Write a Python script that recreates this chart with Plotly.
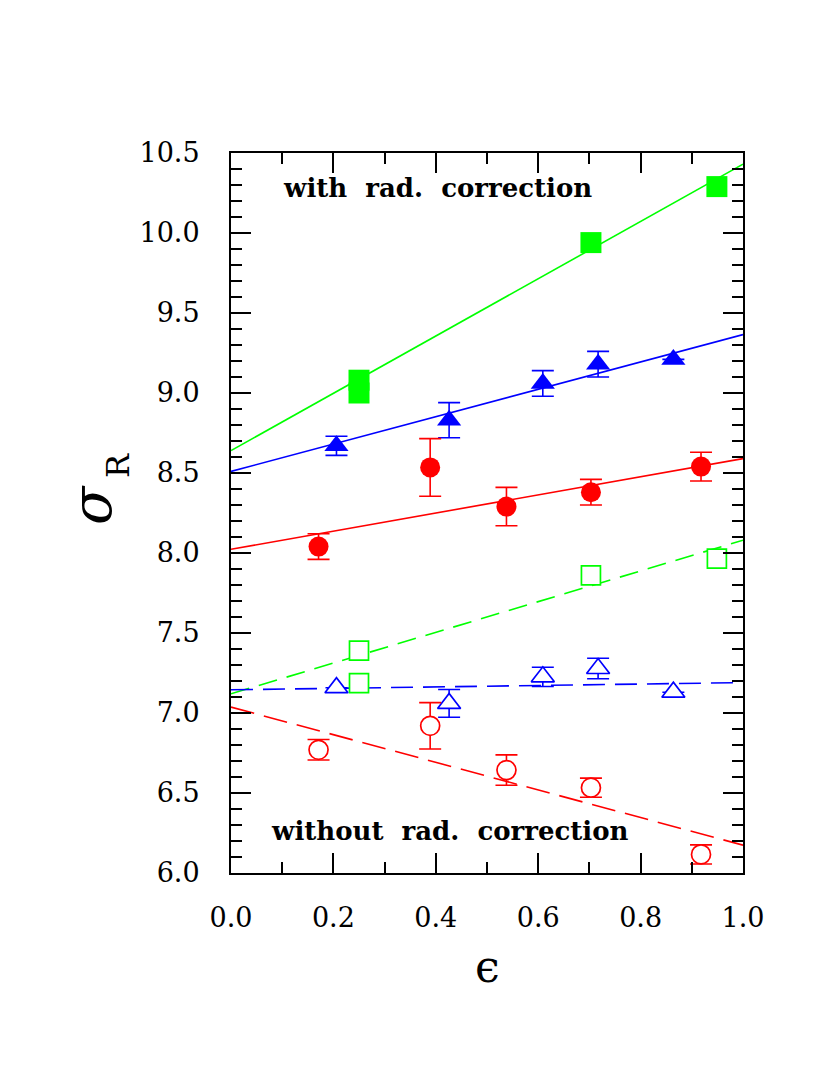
import plotly.graph_objects as go

# ---------------- data ----------------
# with radiative correction (filled symbols, solid fits)
eps_red_f = [0.171, 0.389, 0.538, 0.703, 0.918]
sig_red_f = [8.04, 8.535, 8.29, 8.38, 8.54]
err_red_f = [0.08, 0.18, 0.12, 0.08, 0.09]

eps_blue_f = [0.206, 0.426, 0.609, 0.717, 0.864]
sig_blue_f = [8.67, 8.83, 9.06, 9.18, 9.21]
err_blue_f = [0.06, 0.11, 0.08, 0.08, None]

eps_green_f = [0.25, 0.25, 0.703, 0.949]
sig_green_f = [9.08, 9.00, 9.94, 10.29]

# without radiative correction (open symbols, dashed fits)
eps_red_o = [0.171, 0.389, 0.538, 0.703, 0.918]
sig_red_o = [6.77, 6.92, 6.643, 6.533, 6.116]
err_red_o = [0.064, 0.145, 0.095, 0.06, 0.06]

eps_blue_o = [0.206, 0.426, 0.609, 0.717, 0.864]
sig_blue_o = [7.158, 7.06, 7.226, 7.278, 7.13]
err_blue_o = [None, 0.087, 0.06, 0.064, None]

eps_green_o = [0.25, 0.25, 0.703, 0.949]
sig_green_o = [7.39, 7.187, 7.86, 7.965]

# linear fits (end points)
fit_x = [0.0, 1.0]
fit_red_f = [8.023, 8.59]
fit_blue_f = [8.51, 9.365]
fit_green_f = [8.64, 10.43]
fit_red_o = [7.037, 6.174]
fit_blue_o = [7.145, 7.19]
fit_green_o = [7.12, 8.08]

x_ticks = [0.0, 0.2, 0.4, 0.6, 0.8, 1.0]
y_ticks = [6.0, 6.5, 7.0, 7.5, 8.0, 8.5, 9.0, 9.5, 10.0, 10.5]

RED, BLUE, GREEN = "#ff0000", "#0000ff", "#00ff00"
FONT = "DejaVu Serif"

fig = go.Figure()

def line(xs, ys, color, dash="solid"):
    fig.add_trace(go.Scatter(x=xs, y=ys, mode="lines",
                             line=dict(color=color, width=1.6, dash=dash),
                             showlegend=False, hoverinfo="skip"))

def pts(xs, ys, color, symbol, size, errs=None, open_=False):
    err = None
    if errs is not None:
        err = dict(type="data", array=errs, visible=True, color=color,
                   thickness=1.6, width=11)
    if open_:
        marker = dict(symbol=symbol, size=size, color="white",
                      line=dict(color=color, width=1.7))
    else:
        marker = dict(symbol=symbol, size=size, color=color, line=dict(width=0))
    fig.add_trace(go.Scatter(x=xs, y=ys, mode="markers", marker=marker,
                             error_y=err, showlegend=False))

# fits
line(fit_x, fit_green_f, GREEN)
line(fit_x, fit_blue_f, BLUE)
line(fit_x, fit_red_f, RED)
line(fit_x, fit_green_o, GREEN, "19px,10px")
line(fit_x, fit_blue_o, BLUE, "22px,10px")
line(fit_x, fit_red_o, RED, "24px,10px")

# points
pts(eps_green_f, sig_green_f, GREEN, "square", 21)
pts(eps_blue_f, sig_blue_f, BLUE, "triangle-up", 21, err_blue_f)
pts(eps_red_f, sig_red_f, RED, "circle", 20, err_red_f)
pts(eps_green_o, sig_green_o, GREEN, "square", 19, open_=True)
pts(eps_blue_o, sig_blue_o, BLUE, "triangle-up", 20, err_blue_o, open_=True)
pts(eps_red_o, sig_red_o, RED, "circle", 19, err_red_o, open_=True)

axis_common = dict(
    showgrid=False, zeroline=False, showline=True, linecolor="black",
    linewidth=2, mirror="ticks", ticks="inside", ticklen=20, tickwidth=1.6,
    tickcolor="black", tickfont=dict(family=FONT, size=27, color="black"),
    tickformat=".1f",
)

fig.update_xaxes(range=[0, 1], tickvals=x_ticks, ticklabelstandoff=20,
                 minor=dict(dtick=0.1, ticks="inside", ticklen=11,
                            tickwidth=1.6, tickcolor="black"),
                 **axis_common)
fig.update_yaxes(range=[6, 10.5], tickvals=y_ticks, ticklabelstandoff=24,
                 minor=dict(dtick=0.1, ticks="inside", ticklen=11,
                            tickwidth=1.6, tickcolor="black"),
                 **axis_common)

annotations = [
    dict(text="with\u00a0\u00a0rad.\u00a0\u00a0correction", x=0.098, y=10.28,
         xref="x", yref="y", xanchor="left", yanchor="middle", showarrow=False,
         font=dict(family=FONT, size=26, color="black", weight="bold")),
    dict(text="without\u00a0\u00a0rad.\u00a0\u00a0correction", x=0.074, y=6.26,
         xref="x", yref="y", xanchor="left", yanchor="middle", showarrow=False,
         font=dict(family=FONT, size=26, color="black", weight="bold")),
    dict(text="\u03f5", x=0.5, y=-0.1295, xref="paper", yref="paper",
         xanchor="center", yanchor="middle", showarrow=False,
         font=dict(family=FONT, size=44, color="black")),
    dict(text="<i>\u03c3</i>", x=-0.2734, y=0.511, xref="paper", yref="paper",
         xanchor="center", yanchor="middle", showarrow=False, textangle=-90,
         font=dict(family=FONT, size=56, color="black")),
    dict(text="R", x=-0.2207, y=0.5654, xref="paper", yref="paper",
         xanchor="center", yanchor="middle", showarrow=False, textangle=-90,
         font=dict(family=FONT, size=32, color="black")),
]

fig.update_layout(
    width=814, height=1059,
    margin=dict(l=223, r=79, t=145, b=194, pad=0),
    plot_bgcolor="white", paper_bgcolor="white",
    annotations=annotations,
)

fig.write_html("out.html")
